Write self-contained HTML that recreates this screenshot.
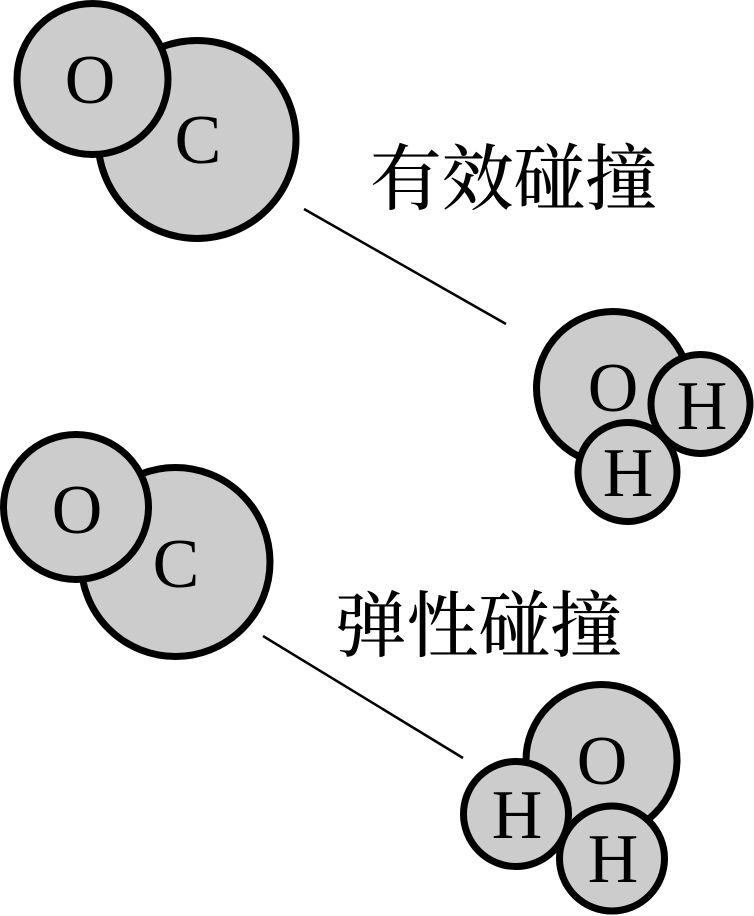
<!DOCTYPE html>
<html>
<head>
<meta charset="utf-8">
<style>
html,body{margin:0;padding:0;background:#fff;width:754px;height:916px;overflow:hidden}
svg{display:block}
.a{font-family:"Liberation Serif",serif;font-size:70px;fill:#000;text-anchor:middle}
.c{font-family:"Noto Serif CJK SC","Liberation Serif",serif;font-size:72px;font-weight:500;fill:#000;text-anchor:middle}
circle{fill:#cccccc;stroke:#000;stroke-width:7}
line{stroke:#000;stroke-width:2.5}
</style>
</head>
<body>
<svg width="754" height="916" viewBox="0 0 754 916" xmlns="http://www.w3.org/2000/svg">
<circle cx="197" cy="139.500" r="99"/>
<circle cx="92.500" cy="79" r="75.500"/>
<text class="a" x="90" y="103">O</text>
<text class="a" x="198" y="163">C</text>
<text class="c" x="513.500" y="204" textLength="287" lengthAdjust="spacingAndGlyphs">有效碰撞</text>
<line x1="304" y1="209" x2="506" y2="324"/>
<circle cx="613" cy="388" r="76.500"/>
<circle cx="700.500" cy="404" r="49.500"/>
<circle cx="627.500" cy="472" r="49.500"/>
<text class="a" x="613" y="411">O</text>
<text class="a" x="702" y="429">H</text>
<text class="a" x="628" y="496">H</text>
<circle cx="175.500" cy="562" r="94.500"/>
<circle cx="76" cy="507" r="72.500"/>
<text class="a" x="77" y="533">O</text>
<text class="a" x="176" y="587">C</text>
<text class="c" x="478.500" y="651" textLength="287" lengthAdjust="spacingAndGlyphs">弹性碰撞</text>
<line x1="263" y1="636" x2="463" y2="758"/>
<circle cx="601.500" cy="760" r="75.500"/>
<circle cx="516" cy="814" r="52.500"/>
<circle cx="612" cy="858.500" r="52.500"/>
<text class="a" x="602" y="784">O</text>
<text class="a" x="517" y="838">H</text>
<text class="a" x="613" y="882">H</text>
</svg>
</body>
</html>
